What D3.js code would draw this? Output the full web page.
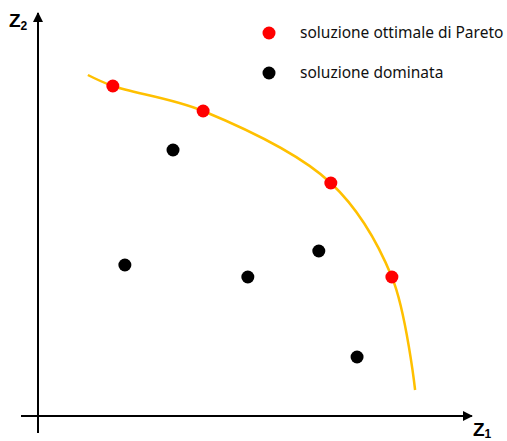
<!DOCTYPE html>
<html>
<head>
<meta charset="utf-8">
<script src="https://cdnjs.cloudflare.com/ajax/libs/d3/7.8.5/d3.min.js"></script>
<style>
body { margin: 0; background: white; }
.legend--label { font-family: "Noto Sans", sans-serif; font-size: 15.5px; fill: #111; }
.axis--name { font-family: "Liberation Sans", Arial, sans-serif; font-weight: bold; fill: black; }
</style>
</head>
<body>
<svg width="507" height="441"></svg>
<script>
// values, in 0..100 units on both axes
var paretoX = [17.4, 38.4, 68.1, 82.3];
var paretoY = [82.5, 76.25, 58.25, 34.75];
var dominatedX = [31.4, 20.2, 48.8, 65.3, 74.2];
var dominatedY = [66.5, 37.75, 34.75, 41.25, 14.75];
// frontier curve through the optimal points
var frontX = [11.6, 17.4, 38.4, 68.1, 82.3, 87.7];
var frontY = [85.25, 82.5, 76.25, 58.25, 34.75, 6.5];
var legendLabels = ["soluzione ottimale di Pareto", "soluzione dominata"];
var legendColors = ["#ff0000", "#000000"];

var svg = d3.select("svg");
var x = d3.scaleLinear().domain([0, 100]).range([38, 468]);
var y = d3.scaleLinear().domain([0, 100]).range([416, 16]);

svg.append("defs").append("marker")
    .attr("id", "arrow")
    .attr("viewBox", "0 0 10 10")
    .attr("refX", 9).attr("refY", 5)
    .attr("markerWidth", 10).attr("markerHeight", 10)
    .attr("markerUnits", "userSpaceOnUse")
    .attr("orient", "auto")
  .append("path")
    .attr("d", "M0,0 L10,5 L0,10 z")
    .attr("fill", "black");

// axes
svg.append("line")
    .attr("x1", x(0)).attr("y1", y(-4.25))
    .attr("x2", x(0)).attr("y2", y(100.75))
    .attr("stroke", "black").attr("stroke-width", 2)
    .attr("marker-end", "url(#arrow)");
svg.append("line")
    .attr("x1", x(-3.95)).attr("y1", y(0))
    .attr("x2", x(100.9)).attr("y2", y(0))
    .attr("stroke", "black").attr("stroke-width", 2)
    .attr("marker-end", "url(#arrow)");

var z2 = svg.append("text").attr("class", "axis--name")
    .attr("x", 9).attr("y", 27).style("font-size", "19px");
z2.append("tspan").text("Z");
z2.append("tspan").attr("dy", 3).style("font-size", "12px").text("2");

var z1 = svg.append("text").attr("class", "axis--name")
    .attr("x", 473).attr("y", 436).style("font-size", "19px");
z1.append("tspan").text("Z");
z1.append("tspan").attr("dy", 2).style("font-size", "12px").text("1");

// Pareto frontier
var front = frontX.map(function (d, i) { return [d, frontY[i]]; });
svg.append("path")
    .datum(front)
    .attr("fill", "none")
    .attr("stroke", "#ffc000")
    .attr("stroke-width", 2.5)
    .attr("d", d3.line()
      .x(function (d) { return x(d[0]); })
      .y(function (d) { return y(d[1]); })
      .curve(d3.curveCatmullRom.alpha(0.5)));

svg.selectAll(".dot--pareto")
    .data(paretoX)
    .enter().append("circle")
    .attr("class", "dot--pareto")
    .attr("cx", function (d) { return x(d); })
    .attr("cy", function (d, i) { return y(paretoY[i]); })
    .attr("r", 6.5)
    .attr("fill", legendColors[0]);

svg.selectAll(".dot--dom")
    .data(dominatedX)
    .enter().append("circle")
    .attr("class", "dot--dom")
    .attr("cx", function (d) { return x(d); })
    .attr("cy", function (d, i) { return y(dominatedY[i]); })
    .attr("r", 6.5)
    .attr("fill", legendColors[1]);

// legend
var legend = svg.append("g").attr("transform", "translate(269,33)");
var items = legend.selectAll("g")
    .data(legendLabels)
    .enter().append("g")
    .attr("transform", function (d, i) { return "translate(0," + i * 40 + ")"; });
items.append("circle")
    .attr("r", 6.5)
    .attr("fill", function (d, i) { return legendColors[i]; });
items.append("text")
    .attr("class", "legend--label")
    .attr("x", 31)
    .attr("dy", "0.35em")
    .text(function (d) { return d; });
</script>
</body>
</html>
